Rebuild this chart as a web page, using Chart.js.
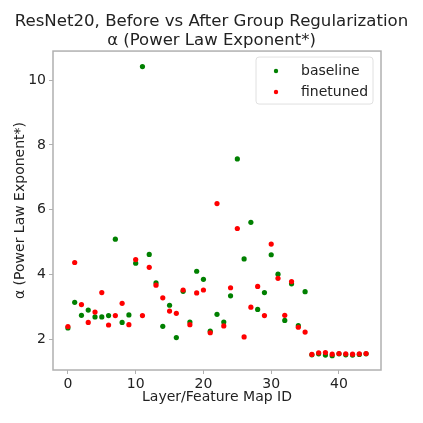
<!DOCTYPE html>
<html>
<head>
<meta charset="utf-8">
<script src="https://cdn.jsdelivr.net/npm/chart.js@4.4.1/dist/chart.umd.min.js"></script>
<style>
  html, body { margin: 0; padding: 0; background: #fff; }
  #wrap { width: 423px; height: 423px; }
</style>
</head>
<body>
<div id="wrap"><canvas id="alphaChart" width="423" height="423"></canvas></div>
<script>
// Layer / feature map ids
const LAYER_IDS = [
    0, 1, 2, 3, 4, 5, 6, 7, 8, 9,
    10, 11, 12, 13, 14, 15, 16, 17, 18, 19,
    20, 21, 22, 23, 24, 25, 26, 27, 28, 29,
    30, 31, 32, 33, 34, 35, 36, 37, 38, 39,
    40, 41, 42, 43, 44
];

// alpha values
const BASELINE = [
    2.35, 3.14, 2.74, 2.90, 2.69, 2.69, 2.73, 5.09, 2.52, 2.75,
    4.35, 10.42, 4.62, 3.74, 2.40, 3.05, 2.05, 3.48, 2.53, 4.10,
    3.85, 2.25, 2.77, 2.53, 3.34, 7.57, 4.48, 5.61, 2.92, 3.44,
    4.61, 4.01, 2.58, 3.71, 2.42, 3.47, 1.52, 1.55, 1.51, 1.49,
    1.55, 1.52, 1.51, 1.53, 1.55
];
const FINETUNED = [
    2.39, 4.37, 3.07, 2.52, 2.84, 3.44, 2.44, 2.73, 3.11, 2.45,
    4.46, 2.73, 4.22, 3.67, 3.28, 2.87, 2.80, 3.52, 2.45, 3.43,
    3.52, 2.20, 6.19, 2.41, 3.59, 5.42, 2.07, 2.99, 3.63, 2.73,
    4.94, 3.88, 2.74, 3.78, 2.37, 2.22, 1.53, 1.58, 1.59, 1.54,
    1.56, 1.55, 1.54, 1.55, 1.56
];

const X_TICKS = [0, 10, 20, 30, 40];
const Y_TICKS = [2, 4, 6, 8, 10];

const FONT = "'DejaVu Sans', sans-serif";
const FRAME_COLOR = '#b0b0b0';

function toPoints(values) {
    return values.map((v, i) => ({ x: LAYER_IDS[i], y: v }));
}

// frame around the plot area, like matplotlib spines
const framePlugin = {
    id: 'frame',
    afterDatasetsDraw(chart) {
        const { ctx, chartArea: a } = chart;
        ctx.save();
        ctx.strokeStyle = FRAME_COLOR;
        ctx.lineWidth = 1.5;
        ctx.strokeRect(a.left, a.top, a.right - a.left, a.bottom - a.top);
        ctx.restore();
    }
};

// legend box in the upper right corner of the plot
const boxLegendPlugin = {
    id: 'boxLegend',
    afterDraw(chart) {
        const { ctx, chartArea: a } = chart;
        const sets = chart.data.datasets;
        const boxW = 117, boxH = 47;
        const x0 = a.right - 8 - boxW, y0 = a.top + 6;
        ctx.save();
        ctx.fillStyle = 'rgba(255,255,255,0.8)';
        ctx.strokeStyle = '#e0e0e0';
        ctx.lineWidth = 1;
        ctx.beginPath();
        ctx.roundRect(x0, y0, boxW, boxH, 3);
        ctx.fill();
        ctx.stroke();
        ctx.font = `14px ${FONT}`;
        ctx.textBaseline = 'middle';
        sets.forEach((ds, i) => {
            const cy = y0 + 14 + i * 21;
            ctx.fillStyle = ds.backgroundColor;
            ctx.beginPath();
            ctx.arc(x0 + 20, cy, 2.2, 0, Math.PI * 2);
            ctx.fill();
            ctx.fillStyle = '#222';
            ctx.fillText(ds.label, x0 + 45, cy);
        });
        ctx.restore();
    }
};

const ctx = document.getElementById('alphaChart').getContext('2d');
new Chart(ctx, {
    type: 'scatter',
    data: {
        datasets: [
            {
                label: 'baseline',
                data: toPoints(BASELINE),
                backgroundColor: '#008000',
                borderColor: '#008000',
                pointRadius: 2.6,
                borderWidth: 0,
                order: 2
            },
            {
                label: 'finetuned',
                data: toPoints(FINETUNED),
                backgroundColor: '#ff0000',
                borderColor: '#ff0000',
                pointRadius: 2.6,
                borderWidth: 0,
                order: 1
            }
        ]
    },
    options: {
        responsive: false,
        animation: false,
        layout: { padding: { top: 13, right: 0, left: 0, bottom: 0 } },
        plugins: {
            legend: { display: false },
            tooltip: { enabled: false },
            title: {
                display: true,
                text: 'ResNet20, Before vs After Group Regularization',
                color: '#222',
                font: { family: FONT, size: 16.6, weight: 'normal', lineHeight: 1.1 },
                padding: { top: 0, bottom: 0 }
            },
            subtitle: {
                display: true,
                text: 'α (Power Law Exponent*)',
                color: '#222',
                font: { family: FONT, size: 16.5, weight: 'normal', lineHeight: 1.2 },
                padding: { top: 0, bottom: 0 }
            }
        },
        scales: {
            x: {
                type: 'linear',
                min: -2.2,
                max: 46.2,
                afterBuildTicks(axis) {
                    axis.ticks = X_TICKS.map(v => ({ value: v }));
                },
                afterFit(axis) { axis.height = 53; },
                grid: { drawOnChartArea: false, drawTicks: true, tickLength: 4, color: FRAME_COLOR },
                border: { display: false },
                ticks: { color: '#222', font: { family: FONT, size: 14 }, padding: 2, maxRotation: 0 },
                title: {
                    display: true,
                    text: 'Layer/Feature Map ID',
                    color: '#222',
                    font: { family: FONT, size: 14 },
                    padding: { top: 0, bottom: 17 }
                }
            },
            y: {
                type: 'linear',
                min: 1.05,
                max: 10.9,
                afterBuildTicks(axis) {
                    axis.ticks = Y_TICKS.map(v => ({ value: v }));
                },
                afterFit(axis) { axis.width = 53; },
                grid: { drawOnChartArea: false, drawTicks: true, tickLength: 4, color: FRAME_COLOR },
                border: { display: false },
                ticks: { color: '#222', font: { family: FONT, size: 14 }, padding: 3 },
                title: {
                    display: true,
                    text: 'α (Power Law Exponent*)',
                    color: '#222',
                    font: { family: FONT, size: 14 },
                    padding: { top: 12, bottom: 4 }
                }
            },
            // empty right-hand gutter so the title stays centred on the page
            gutter: {
                type: 'linear',
                position: 'right',
                display: true,
                afterFit(axis) { axis.width = 42; },
                grid: { display: false },
                border: { display: false },
                ticks: { display: false }
            }
        }
    },
    plugins: [framePlugin, boxLegendPlugin]
});
</script>
</body>
</html>
